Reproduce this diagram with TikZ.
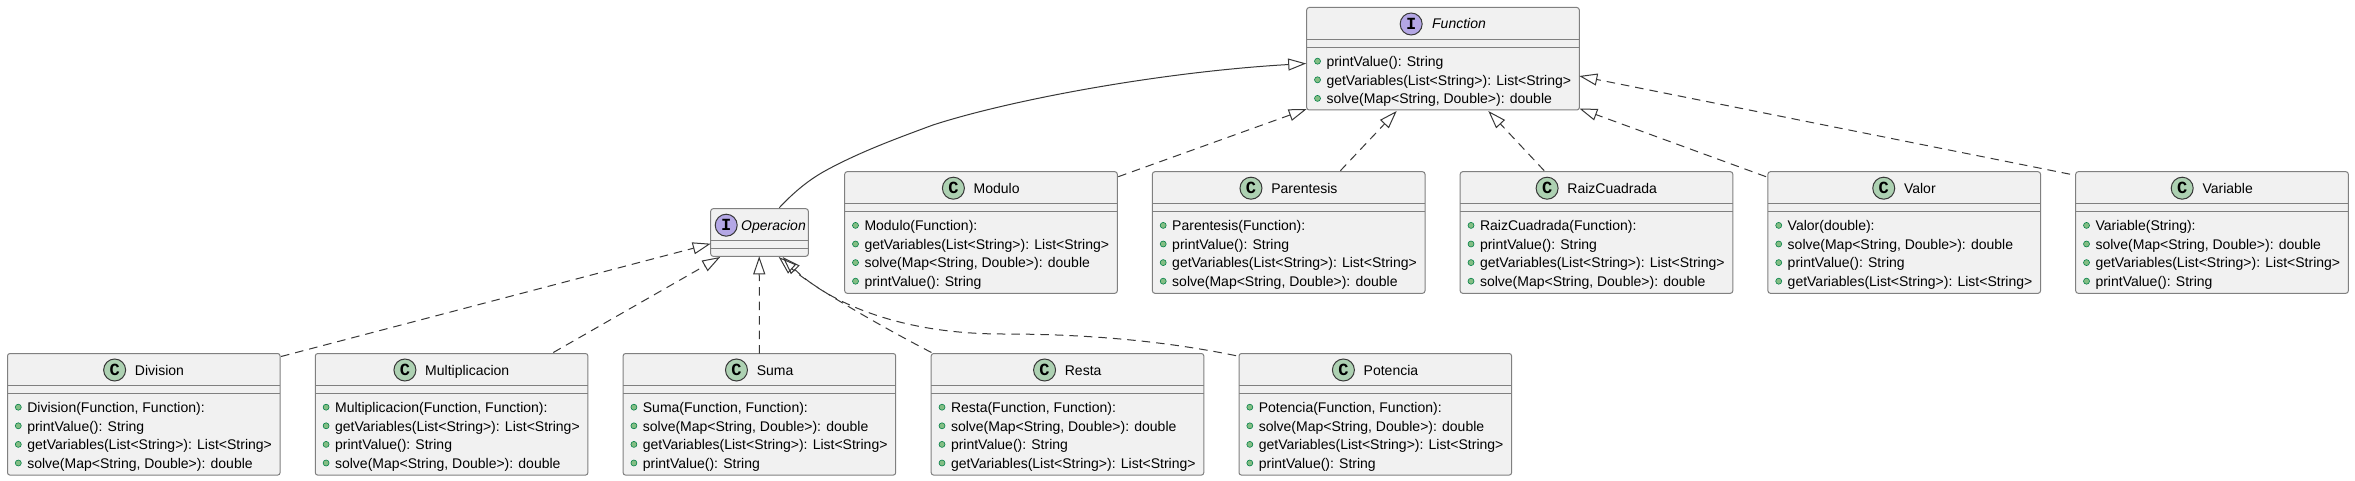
\documentclass[tikz,border=0pt]{standalone}
\usepackage{fontspec}
\setmainfont{Liberation Sans}
\newfontfamily\iconfont{Liberation Mono}
\usetikzlibrary{arrows.meta}
\definecolor{boxfill}{HTML}{F1F1F1}
\definecolor{boxline}{HTML}{808080}
\definecolor{edgeline}{HTML}{383838}
\definecolor{iconI}{HTML}{B4A7E5}
\definecolor{iconC}{HTML}{ADD1B2}
\definecolor{dotfill}{HTML}{84BE84}
\definecolor{dotline}{HTML}{038048}
\tikzset{
  umlbox/.style={draw=boxline,fill=boxfill,line width=1pt,rounded corners=2.5pt,inner sep=0pt,outer sep=0pt,minimum width=#1},
  partline/.style={draw=boxline,line width=1pt},
  member/.style={inner sep=0pt,outer sep=0pt,anchor=base west,font=\fontsize{14}{16}\selectfont,text=black},
  memberdot/.style={circle,draw=dotline,fill=dotfill,line width=0.6pt,minimum size=6pt,inner sep=0pt},
  titletext/.style={inner sep=0pt,outer sep=0pt,anchor=base,font=\fontsize{14}{16}\selectfont},
  icon/.style={circle,draw=edgeline,line width=1pt,minimum size=22pt,inner sep=0pt,font=\iconfont\bfseries\fontsize{17}{17}\selectfont},
  hollow/.style={-{Triangle[open,length=18pt,width=12pt]}},
  ext/.style={hollow,draw=edgeline,line width=1pt},
  impl/.style={ext,dash pattern=on 8.5pt off 6pt}
}
% name, left, top, width, height, icon letter+colour, title, gap, rows
\newcommand{\umlclass}[9]{%
  \node[umlbox=#4 pt,minimum height=#5 pt] (#1) at (#2+#4/2,#3+#5/2) {};
  \draw[partline] ([shift={(0,32)}]#1.north west) -- ([shift={(0,32)}]#1.north east);
  \draw[partline] ([shift={(0,40)}]#1.north west) -- ([shift={(0,40)}]#1.north east);
  \node[titletext] (#1-t) at (#2+#4/2,#3+21.5) {\hspace*{#8pt}#7};
  #6
  \foreach \rowtext [count=\i from 0] in {#9}{
    \node[memberdot] (#1-d\i) at (#2+10.8,#3+53.7+18.6*\i) {};
    \node[member] (#1-r\i) at (#2+19.8,#3+59+18.6*\i) {\rowtext};
  }
}
\newcommand{\iconC}[1]{\path (#1-t.base west) ++(11,-5) node[icon,fill=iconC] (#1-i) {C};}
\newcommand{\iconI}[1]{\path (#1-t.base west) ++(11,-5) node[icon,fill=iconI] (#1-i) {I};}
\begin{document}
\begin{tikzpicture}[x=1pt,y=-1pt]
\useasboundingbox[fill=white] (0,0) rectangle (2355,481);

\umlclass{func}{1306.7}{7.5}{272.6}{102.5}{\iconI{func}}{\textit{Function}}{32}{{printValue(): String},{getVariables(List<String>): List<String>},{solve(Map<String, Double>): double}}
\umlclass{oper}{710.7}{208.7}{97.6}{47.6}{\iconI{oper}}{\textit{Operacion}\hspace*{-2pt}}{26}{}

\umlclass{modulo}{844.7}{171.7}{272.6}{121.6}{\iconC{modulo}}{Modulo}{31.3}{{Modulo(Function):},{getVariables(List<String>): List<String>},{solve(Map<String, Double>): double},{printValue(): String}}
\umlclass{parent}{1152.4}{171.7}{272.6}{121.6}{\iconC{parent}}{Parentesis}{31.3}{{Parentesis(Function):},{printValue(): String},{getVariables(List<String>): List<String>},{solve(Map<String, Double>): double}}
\umlclass{raiz}{1460.2}{171.7}{272.6}{121.6}{\iconC{raiz}}{RaizCuadrada}{31.3}{{RaizCuadrada(Function):},{printValue(): String},{getVariables(List<String>): List<String>},{solve(Map<String, Double>): double}}
\umlclass{valor}{1767.9}{171.7}{272.6}{121.6}{\iconC{valor}}{Valor}{31.3}{{Valor(double):},{solve(Map<String, Double>): double},{printValue(): String},{getVariables(List<String>): List<String>}}
\umlclass{variable}{2075.7}{171.7}{272.6}{121.6}{\iconC{variable}}{Variable}{31.3}{{Variable(String):},{solve(Map<String, Double>): double},{getVariables(List<String>): List<String>},{printValue(): String}}

\umlclass{division}{7.5}{353.5}{272.6}{121.6}{\iconC{division}}{Division}{31.3}{{Division(Function, Function):},{printValue(): String},{getVariables(List<String>): List<String>},{solve(Map<String, Double>): double}}
\umlclass{multi}{315.3}{353.5}{272.6}{121.6}{\iconC{multi}}{Multiplicacion}{31.3}{{Multiplicacion(Function, Function):},{getVariables(List<String>): List<String>},{printValue(): String},{solve(Map<String, Double>): double}}
\umlclass{suma}{623.1}{353.5}{272.6}{121.6}{\iconC{suma}}{Suma}{31.3}{{Suma(Function, Function):},{solve(Map<String, Double>): double},{getVariables(List<String>): List<String>},{printValue(): String}}
\umlclass{resta}{931.2}{353.5}{272.6}{121.6}{\iconC{resta}}{Resta}{31.3}{{Resta(Function, Function):},{solve(Map<String, Double>): double},{printValue(): String},{getVariables(List<String>): List<String>}}
\umlclass{potencia}{1239}{353.5}{272.6}{121.6}{\iconC{potencia}}{Potencia}{31.3}{{Potencia(Function, Function):},{solve(Map<String, Double>): double},{getVariables(List<String>): List<String>},{printValue(): String}}

% Operacion extends Function
\draw[ext] ([shift={(68.6,-1)}]oper.north west) .. controls (795,191) and (810,179) .. (826.7,170)
  .. controls (860,152) and (895,139) .. (933,125)
  .. controls (1010,100) and (1160,72) .. ([shift={(-0.5,56)}]func.north west);

% implementations of Function
\draw[impl] ([shift={(1,5)}]modulo.north east) -- ([shift={(0,-1)}]func.south west);
\draw[impl] ([shift={(188,-1)}]parent.north west) -- ([shift={(90,1)}]func.south west);
\draw[impl] ([shift={(84,-1)}]raiz.north west) -- ([shift={(181.6,1)}]func.south west);
\draw[impl] ([shift={(-1.9,5)}]valor.north west) -- ([shift={(0,-1.5)}]func.south east);
\draw[impl] ([shift={(-5.7,2.5)}]variable.north west) -- ([shift={(0,68.5)}]func.north east);

% implementations of Operacion
\draw[impl] ([shift={(1,3)}]division.north east) -- ([shift={(0,35)}]oper.north west);
\draw[impl] ([shift={(238,-1)}]multi.north west) -- ([shift={(9.5,0.7)}]oper.south west);
\draw[impl] (suma.north) -- ([shift={(-0.3,0)}]oper.south);
\draw[impl] ([shift={(0.2,-1)}]resta.north west) .. controls (871,321) and (810,285) .. ([shift={(68,0.7)}]oper.south west);
\draw[impl] ([shift={(-3,2.2)}]potencia.north west) .. controls (1160,340) and (1080,334) .. (1003,334)
  .. controls (880,334) and (815,290) .. ([shift={(72,0.7)}]oper.south west);
\end{tikzpicture}
\end{document}
